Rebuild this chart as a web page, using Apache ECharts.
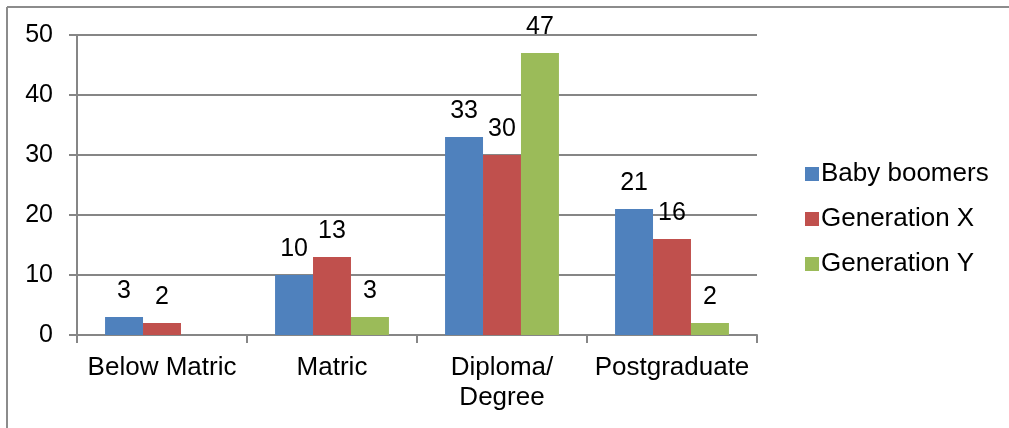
<!DOCTYPE html>
<html>
<head>
<meta charset="utf-8">
<style>
  html, body { margin: 0; padding: 0; background: #fff; overflow: hidden; }
  #chart { position: absolute; left: 0; top: 0; width: 1009px; height: 428px; }
</style>
<script src="https://cdn.jsdelivr.net/npm/echarts@6/dist/echarts.min.js"></script>
</head>
<body>
<div id="chart"></div>
<script>
// Education level by generation (%)
const categories = ['Below Matric', 'Matric', 'Diploma/\nDegree', 'Postgraduate'];
const babyBoomers = [3, 10, 33, 21];
const generationX = [2, 13, 30, 16];
const generationY = [null, 3, 47, 2];
const yTicks = { min: 0, max: 50, interval: 10 };

const font = 'Liberation Sans, Arial, sans-serif';
const axisGray = '#868686';

function barSeries(name, data, color) {
  return {
    name: name,
    type: 'bar',
    data: data,
    barGap: '0%',
    barCategoryGap: '33%',
    itemStyle: { color: color },
    label: {
      show: true,
      position: 'top',
      distance: 13,
      color: '#000',
      fontFamily: font,
      fontSize: 25
    }
  };
}

const chart = echarts.init(document.getElementById('chart'), null, { renderer: 'canvas' });
chart.setOption({
  animation: false,
  backgroundColor: '#fff',
  // outer frame: top and left edges
  graphic: [
    { type: 'line', shape: { x1: 7, y1: 7, x2: 1009, y2: 7 }, style: { stroke: '#8c8c8c', lineWidth: 2 } },
    { type: 'line', shape: { x1: 7, y1: 7, x2: 7, y2: 428 }, style: { stroke: '#8c8c8c', lineWidth: 2 } }
  ],
  grid: { left: 77, right: 252, top: 35, bottom: 93, containLabel: false },
  legend: {
    orient: 'vertical',
    left: 800,
    top: 156,
    itemWidth: 14,
    itemHeight: 14,
    itemGap: 19,
    icon: 'rect',
    textStyle: { fontFamily: font, fontSize: 26, color: '#000', padding: [0, 0, 0, -3] },
    data: ['Baby boomers', 'Generation X', 'Generation Y']
  },
  xAxis: {
    type: 'category',
    data: categories,
    axisLine: { lineStyle: { color: axisGray, width: 2 } },
    axisTick: { show: true, length: 8, alignWithLabel: false, lineStyle: { color: axisGray, width: 2 } },
    axisLabel: { color: '#000', fontFamily: font, fontSize: 26, margin: 18, lineHeight: 30, interval: 0 }
  },
  yAxis: {
    type: 'value',
    min: yTicks.min,
    max: yTicks.max,
    interval: yTicks.interval,
    axisLine: { show: true, lineStyle: { color: axisGray, width: 2 } },
    axisTick: { show: true, length: 8, lineStyle: { color: axisGray, width: 2 } },
    splitLine: { show: true, lineStyle: { color: axisGray, width: 2 } },
    axisLabel: { color: '#000', fontFamily: font, fontSize: 25, margin: 24 }
  },
  series: [
    barSeries('Baby boomers', babyBoomers, '#4F81BD'),
    barSeries('Generation X', generationX, '#C0504D'),
    barSeries('Generation Y', generationY, '#9BBB59')
  ]
});
</script>
</body>
</html>
